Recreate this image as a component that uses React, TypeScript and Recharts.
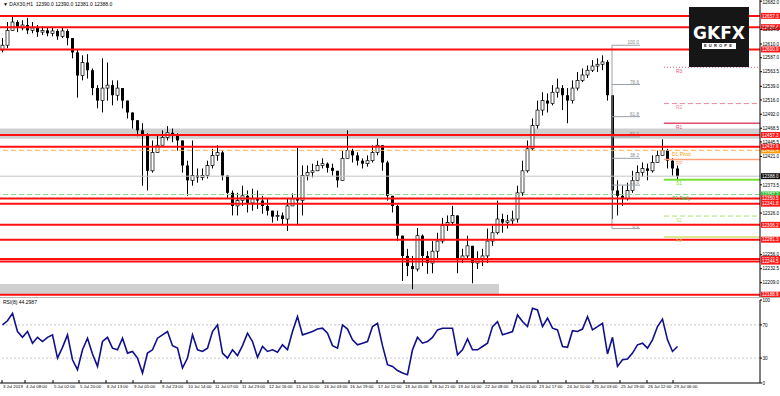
import { ComposedChart, LineChart, Line, Bar, XAxis, YAxis, ReferenceLine, ReferenceArea } from "recharts";

const FONT = "Liberation Sans, Arial, sans-serif";

// DAX30 H1 bars (open = previous close)
const firstOpen = 12600;
const closes = [
  12608, 12633, 12647, 12637, 12642, 12633, 12637, 12630, 12633, 12628,
  12632, 12623, 12632, 12620, 12596, 12557, 12579, 12566, 12536, 12515,
  12536, 12541, 12524, 12536, 12515, 12495, 12482, 12465, 12456, 12397,
  12428, 12440, 12453, 12461, 12456, 12448, 12406, 12381, 12389, 12386,
  12389, 12406, 12423, 12428, 12389, 12360, 12338, 12347, 12355, 12343,
  12350, 12347, 12338, 12330, 12320, 12322, 12316, 12338, 12350, 12347,
  12389, 12394, 12397, 12406, 12409, 12402, 12397, 12381, 12418, 12431,
  12423, 12414, 12409, 12414, 12428, 12440, 12411, 12355, 12338, 12288,
  12254, 12237, 12232, 12288, 12254, 12242, 12262, 12279, 12305, 12310,
  12322, 12249, 12254, 12271, 12242, 12249, 12254, 12279, 12293, 12316,
  12310, 12313, 12316, 12360, 12397, 12434, 12473, 12499, 12515, 12510,
  12529, 12536, 12524, 12515, 12536, 12549, 12558, 12566, 12573, 12576,
  12580, 12524, 12364, 12355, 12350, 12364, 12381, 12394, 12401, 12397,
  12411, 12423, 12431, 12414, 12401, 12388,
];
const highs = [
  12620, 12647, 12657, 12650, 12650, 12654, 12647, 12642, 12640, 12638,
  12638, 12635, 12637, 12635, 12620, 12600, 12591, 12593, 12569, 12541,
  12586, 12579, 12549, 12549, 12536, 12515, 12495, 12482, 12477, 12460,
  12448, 12456, 12465, 12472, 12468, 12460, 12448, 12414, 12448, 12401,
  12401, 12414, 12434, 12440, 12431, 12389, 12364, 12360, 12372, 12364,
  12367, 12364, 12355, 12350, 12330, 12330, 12327, 12350, 12359, 12436,
  12406, 12406, 12409, 12414, 12418, 12411, 12409, 12397, 12431, 12465,
  12434, 12428, 12418, 12423, 12440, 12451, 12440, 12414, 12355, 12340,
  12288, 12266, 12254, 12301, 12290, 12262, 12279, 12293, 12318, 12322,
  12338, 12322, 12266, 12288, 12271, 12262, 12266, 12300, 12305, 12347,
  12325, 12323, 12330, 12372, 12414, 12448, 12485, 12515, 12529, 12527,
  12541, 12552, 12541, 12536, 12549, 12563, 12569, 12574, 12583, 12586,
  12591, 12583, 12524, 12381, 12372, 12377, 12397, 12406, 12411, 12409,
  12423, 12431, 12450, 12434, 12418, 12406,
];
const lows = [
  12596, 12603, 12633, 12630, 12633, 12627, 12628, 12622, 12625, 12623,
  12623, 12617, 12620, 12608, 12586, 12520, 12549, 12552, 12524, 12502,
  12495, 12515, 12507, 12515, 12502, 12485, 12468, 12455, 12372, 12364,
  12394, 12428, 12440, 12448, 12445, 12431, 12394, 12355, 12372, 12377,
  12381, 12384, 12401, 12414, 12381, 12350, 12322, 12322, 12338, 12327,
  12330, 12333, 12325, 12322, 12310, 12313, 12306, 12296, 12338, 12305,
  12322, 12381, 12386, 12397, 12401, 12394, 12389, 12369, 12381, 12418,
  12411, 12406, 12401, 12404, 12411, 12423, 12397, 12347, 12327, 12279,
  12212, 12220, 12198, 12228, 12237, 12224, 12225, 12249, 12275, 12296,
  12305, 12225, 12242, 12249, 12208, 12232, 12237, 12242, 12271, 12290,
  12293, 12300, 12305, 12310, 12355, 12394, 12431, 12468, 12490, 12495,
  12507, 12520, 12499, 12477, 12510, 12532, 12546, 12553, 12563, 12563,
  12566, 12515, 12316, 12322, 12338, 12347, 12360, 12381, 12387, 12381,
  12394, 12411, 12423, 12401, 12389, 12381,
];
const rsiValues = [
  70, 75, 84, 62, 55, 62, 48, 55, 50, 55,
  58, 30, 43, 58, 28, 16, 40, 54, 35, 20,
  50, 55, 42, 40, 54, 36, 38, 30, 12, 36,
  40, 54, 58, 62, 45, 42, 18, 30, 58, 40,
  38, 42, 62, 70, 36, 30, 40, 33, 45, 60,
  50, 31, 44, 38, 40, 37, 46, 40, 62, 80,
  58, 60, 62, 65, 66, 60, 45, 42, 70, 65,
  52, 46, 48, 50, 68, 72, 45, 22, 20, 15,
  12, 10, 40, 55, 48, 50, 55, 64, 66, 66,
  66, 34, 40, 53, 40, 40, 44, 48, 68, 74,
  58, 60, 62, 82, 74, 68, 90, 88, 68, 78,
  66, 64, 44, 43, 63, 62, 65, 80, 64, 68,
  72, 35, 55, 20, 28, 29, 36, 46, 48, 42,
  52, 68, 77, 52, 38, 44,
];

// time axis labels and the bar they sit on
const timeLabels = [
  "3 Jul 2019", "4 Jul 08:00", "5 Jul 02:00", "5 Jul 20:00", "8 Jul 13:00", "9 Jul 05:00",
  "9 Jul 23:00", "10 Jul 14:00", "11 Jul 07:00", "11 Jul 23:00", "12 Jul 16:00", "15 Jul 10:00",
  "16 Jul 03:00", "16 Jul 19:00", "17 Jul 12:00", "18 Jul 05:00", "18 Jul 21:00", "19 Jul 14:00",
  "22 Jul 08:00", "23 Jul 01:00", "23 Jul 17:00", "24 Jul 10:00", "25 Jul 03:00", "25 Jul 19:00",
  "26 Jul 12:00", "29 Jul 06:00",
];
const timeLabelBars = [
  -0.1, 4.5, 10.1, 15.3, 20.7, 26.1, 31.7, 36.9, 42.3, 47.7, 53.1, 58.5, 64.1,
  69.3, 74.9, 80.3, 85.7, 90.9, 96.3, 101.9, 107.1, 112.7, 118.1, 123.5, 128.9, 134.1,
];

// price scale labels
const priceTicks = [
  12682.0, 12634.5, 12610.0, 12587.0, 12563.5, 12539.0, 12516.0, 12492.0, 12468.5,
  12445.5, 12421.0, 12373.5, 12326.0, 12256.0, 12232.5, 12209.0,
];
const rsiTicks = [0, 30, 70, 100];

// support / resistance lines
const redLevels = [12657.3, 12638.4, 12600.9, 12457.3, 12437.6, 12350.5, 12341.8, 12306.2, 12281.3, 12249.0, 12244.5, 12188.9];
const topZone = [12451, 12468];
const bottomZone = [12188, 12207];
const bottomZoneEnd = 99.3;
const dailyPivot = 12431.4;
const dailyS1 = 12357.2;
const lastPrice = 12388.0;

// pivot points (right side)
const pivotStart = 132.3;
const pivotNames = ["R3", "R2", "R1", "PP", "S1", "S2", "S3"];
const pivotValues = [12571, 12510, 12477, 12416, 12382, 12321, 12286];

// fibonacci retracement
const fibStart = 121.9;
const fibEnd = 127.5;
const fibLevels = ["100.0", "78.6", "61.8", "50.0", "38.2", "23.6", "0.0"];
const fibValues = [12608, 12542, 12488, 12454, 12418, 12373, 12300];

const data = closes.map((c, i) => ({
  i,
  open: i === 0 ? firstOpen : closes[i - 1],
  close: c,
  high: highs[i],
  low: lows[i],
  rsi: rsiValues[i],
}));

const Candle = (props: any) => {
  const { x, y, width, height, payload } = props;
  const { open, close, high, low } = payload;
  const span = high - low || 1;
  const py = (v: number) => y + ((high - v) / span) * height;
  const cx = x + width / 2;
  const top = py(Math.max(open, close));
  const bot = py(Math.min(open, close));
  const up = close >= open;
  return (
    <g>
      <line x1={cx} x2={cx} y1={y} y2={y + height} stroke="#000" strokeWidth={1} />
      <rect
        x={x}
        y={top}
        width={width}
        height={Math.max(bot - top, 1)}
        fill={up ? "#fff" : "#000"}
        stroke="#000"
        strokeWidth={up ? 0.7 : 0}
      />
    </g>
  );
};

const AxisTick = (digits: number) => (props: any) => {
  const { x, y, payload } = props;
  return (
    <g>
      <line x1={x} x2={x + 2} y1={y} y2={y} stroke="#000" />
      <text x={x + 2.5} y={Math.max(y, 2.5) + 1.7} fontSize={4.6} fill="#000" fontFamily={FONT}>
        {Number(payload.value).toFixed(digits)}
      </text>
    </g>
  );
};

const priceTag = (value: number, bg: string) => (props: any) => {
  const vb = props.viewBox || {};
  const x = (vb.x ?? 0) + (vb.width ?? 0);
  const y = vb.y ?? 0;
  return (
    <g>
      <rect x={x + 1} y={y - 3} width={19} height={6} fill={bg} />
      <text x={x + 2} y={y + 1.7} fontSize={4.6} fill="#fff" fontFamily={FONT}>
        {value.toFixed(1)}
      </text>
    </g>
  );
};

const lineText = (text: string, color: string, dx: number) => (props: any) => {
  const vb = props.viewBox || {};
  return (
    <text x={(vb.x ?? 0) + dx} y={(vb.y ?? 0) + 5.5} fontSize={5} fill={color} fontFamily={FONT}>
      {text}
    </text>
  );
};

const fibText = (text: string) => (props: any) => {
  const vb = props.viewBox || {};
  return (
    <text x={(vb.x ?? 0) + (vb.width ?? 0) - 1} y={(vb.y ?? 0) - 1} fontSize={4.6} fill="#888" textAnchor="end" fontFamily={FONT}>
      {text}
    </text>
  );
};

const pivotStyle: Record<string, { color: string; dash?: string; width: number }> = {
  R3: { color: "#e2587a", dash: "1 2", width: 1 },
  R2: { color: "#f08ca0", dash: "5 3", width: 1 },
  R1: { color: "#e0506e", width: 1.5 },
  PP: { color: "#ffa07a", width: 1.5 },
  S1: { color: "#77e033", width: 2 },
  S2: { color: "#a8e070", dash: "5 3", width: 1 },
  S3: { color: "#d2e070", width: 1.5 },
};

const TimeTick = (props: any) => {
  const { x, y, payload } = props;
  const idx = timeLabelBars.indexOf(payload.value);
  return (
    <g>
      <line x1={x} x2={x} y1={y - 3} y2={y} stroke="#000" />
      <text x={x + 1} y={y + 4.5} fontSize={4.3} fill="#000" fontFamily={FONT}>
        {idx >= 0 ? timeLabels[idx] : ""}
      </text>
    </g>
  );
};

export default function App() {
  return (
    <div style={{ position: "absolute", left: 0, top: 0, width: 780, height: 396, background: "#fff", overflow: "hidden", fontFamily: FONT }}>
      <ComposedChart width={780} height={297} data={data} margin={{ top: 0, right: 0, bottom: 0, left: 0 }}>
        <XAxis dataKey="i" type="number" domain={[-0.5, 151.5]} hide allowDataOverflow />
        <YAxis
          orientation="right"
          width={20}
          domain={[12185, 12684]}
          allowDataOverflow
          ticks={priceTicks}
          interval={0}
          tick={AxisTick(1)}
          tickSize={0}
          tickMargin={0}
          tickLine={false}
          axisLine={{ stroke: "#000" }}
        />
        <ReferenceArea y1={topZone[0]} y2={topZone[1]} fill="#d0d0d0" fillOpacity={1} stroke="none" />
        <ReferenceArea x1={-0.5} x2={bottomZoneEnd} y1={bottomZone[0]} y2={bottomZone[1]} fill="#d0d0d0" fillOpacity={1} stroke="none" />
        <ReferenceLine y={lastPrice} stroke="#c4c4c4" strokeWidth={1} label={priceTag(lastPrice, "#111")} />
        <ReferenceLine y={dailyPivot} stroke="#ffb347" strokeDasharray="5 3" strokeWidth={1} label={priceTag(dailyPivot, "#ff9900")} />
        <ReferenceLine y={dailyS1} stroke="#88dd88" strokeDasharray="5 3" strokeWidth={1} label={priceTag(dailyS1, "#33bb33")} />
        {fibValues.map((v, k) => (
          <ReferenceLine
            key={"fib" + k}
            segment={[{ x: fibStart, y: v }, { x: fibEnd, y: v }]}
            stroke="#9aa0a8"
            strokeWidth={1}
            label={fibText(fibLevels[k])}
          />
        ))}
        <ReferenceLine segment={[{ x: fibStart, y: fibValues[0] }, { x: fibStart, y: fibValues[6] }]} stroke="#9aa0a8" strokeWidth={1} />
        <Bar dataKey={(d: any) => [d.low, d.high]} shape={Candle} barSize={3} isAnimationActive={false} />
        {redLevels.map((v) => (
          <ReferenceLine key={"red" + v} y={v} stroke="#ff1010" strokeWidth={2} label={priceTag(v, "#ff1a1a")} />
        ))}
        {pivotValues.map((v, k) => {
          const s = pivotStyle[pivotNames[k]];
          return (
            <ReferenceLine
              key={"pv" + k}
              segment={[{ x: pivotStart, y: v }, { x: 151.5, y: v }]}
              stroke={s.color}
              strokeWidth={s.width}
              strokeDasharray={s.dash}
              label={lineText(pivotNames[k], s.color, 12)}
            />
          );
        })}
        <ReferenceLine y={dailyPivot} stroke="none" label={lineText("D1 Pivot", "#ff9900", 672)} />
        <ReferenceLine y={dailyS1} stroke="none" label={lineText("S1 Daily", "#33bb33", 672)} />
      </ComposedChart>

      <div style={{ position: "absolute", left: 0, top: 297, width: 780, height: 1, background: "#b8b8b8" }} />

      <div style={{ position: "absolute", left: 0, top: 297 }}>
        <LineChart width={780} height={99} data={data} margin={{ top: 3, right: 0, bottom: 0, left: 0 }}>
          <XAxis
            dataKey="i"
            type="number"
            domain={[-0.5, 151.5]}
            allowDataOverflow
            ticks={timeLabelBars}
            interval={0}
            height={13}
            tick={TimeTick}
            tickSize={0}
            tickMargin={0}
            tickLine={false}
            axisLine={{ stroke: "#000" }}
          />
          <YAxis
            orientation="right"
            width={20}
            domain={[0, 100]}
            ticks={rsiTicks}
            interval={0}
            tick={AxisTick(0)}
            tickSize={0}
            tickMargin={0}
            tickLine={false}
            axisLine={{ stroke: "#000" }}
          />
          <ReferenceLine y={70} stroke="#c8c8c8" strokeDasharray="2 2" />
          <ReferenceLine y={30} stroke="#c8c8c8" strokeDasharray="2 2" />
          <Line type="linear" dataKey="rsi" stroke="#10108c" strokeWidth={1.6} dot={false} isAnimationActive={false} />
        </LineChart>
      </div>

      <div style={{ position: "absolute", left: 3, top: 1, fontSize: 5, color: "#000", whiteSpace: "nowrap" }}>
        ▼ DAX30,H1&nbsp; 12390.0 12390.0 12381.0 12388.0
      </div>
      <div style={{ position: "absolute", left: 3, top: 299, fontSize: 5, color: "#000", whiteSpace: "nowrap" }}>
        RSI(8) 44.2987
      </div>

      <div
        style={{
          position: "absolute",
          left: 689,
          top: 7,
          width: 60,
          height: 60,
          background: "#161616",
          color: "#fff",
          display: "flex",
          flexDirection: "column",
          alignItems: "center",
          justifyContent: "center",
        }}
      >
        <div style={{ fontSize: 17, fontWeight: 900, letterSpacing: 0, lineHeight: "17px", fontFamily: "DejaVu Sans, sans-serif" }}>GKFX</div>
        <div style={{ fontSize: 4, letterSpacing: 2.2, lineHeight: "6px", marginTop: 1, background: "#fff", color: "#161616", padding: "0 2px", fontWeight: 700 }}>
          EUROPE
        </div>
      </div>
    </div>
  );
}
